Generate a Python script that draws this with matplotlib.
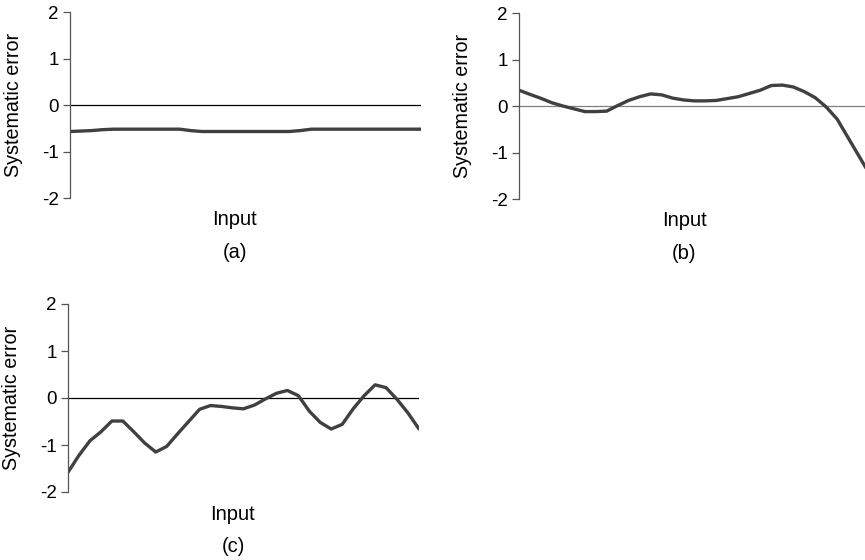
import numpy as np
import matplotlib.pyplot as plt

plt.rcParams['font.family'] = ['Liberation Sans', 'DejaVu Sans']

# systematic error, 33 evenly spaced inputs
err_a = [-0.57, -0.56, -0.55, -0.53, -0.52, -0.52, -0.52, -0.52, -0.52, -0.52,
         -0.52, -0.55, -0.57, -0.57, -0.57, -0.57, -0.57, -0.57, -0.57, -0.57,
         -0.57, -0.55, -0.52, -0.52, -0.52, -0.52, -0.52, -0.52, -0.52, -0.52,
         -0.52, -0.52, -0.52]
err_b = [0.34, 0.25, 0.165, 0.07, 0.0, -0.06, -0.12, -0.12, -0.11, 0.01,
         0.12, 0.2, 0.26, 0.24, 0.17, 0.13, 0.11, 0.11, 0.12, 0.16,
         0.2, 0.27, 0.34, 0.44, 0.45, 0.41, 0.31, 0.18, -0.02, -0.28,
         -0.68, -1.08, -1.48]
err_c = [-1.58, -1.22, -0.91, -0.72, -0.49, -0.49, -0.72, -0.96, -1.15, -1.03,
         -0.76, -0.5, -0.24, -0.16, -0.18, -0.21, -0.23, -0.15, -0.02, 0.1,
         0.16, 0.05, -0.28, -0.52, -0.66, -0.56, -0.23, 0.05, 0.28, 0.22,
         -0.03, -0.32, -0.66]
yticks = [-2, -1, 0, 1, 2]
panels = ['(a)', '(b)', '(c)']

W, H = 865, 560
fig = plt.figure(figsize=(W / 100, H / 100), dpi=100)

# axes boxes in pixels: left, top, right, bottom
boxes = [(70, 12, 421, 198), (519, 13, 870, 199), (68, 304, 419, 492)]
zero_col = ['black', '#808080', 'black']

for err, box, name, zc in zip([err_a, err_b, err_c], boxes, panels, zero_col):
    l, t, r, b = box
    ax = fig.add_axes([l / W, 1 - b / H, (r - l) / W, (b - t) / H])
    x = np.arange(len(err))
    ax.axhline(0, color=zc, lw=0.9, zorder=1)
    ax.plot(x, err, color='#404040', lw=2.4, solid_joinstyle='round',
            solid_capstyle='round', zorder=2)
    ax.set_xlim(0, len(err) - 1)
    ax.set_ylim(-2, 2)
    ax.set_yticks(yticks)
    ax.set_yticklabels([str(v) for v in yticks])
    ax.set_xticks([])
    for s in ['top', 'right', 'bottom']:
        ax.spines[s].set_visible(False)
    ax.spines['left'].set_color('#555555')
    ax.spines['left'].set_linewidth(0.9)
    ax.tick_params(axis='y', length=5, width=0.9, color='#555555',
                   labelsize=13.5, pad=3)
    ax.set_ylabel('Systematic error', fontsize=14.2)
    # label's right edge sits about 47 px left of the spine
    ax.yaxis.set_label_coords(-47 / (r - l), 0.5)
    ax.set_facecolor('none')
    xc = (l + 165) / W
    fig.text(xc, 1 - (b + 22) / H, 'Input', fontsize=14.5, ha='center', va='center')
    fig.text(xc, 1 - (b + 55) / H, name, fontsize=14.5, ha='center', va='center')

fig.savefig('out.png', dpi=100)
